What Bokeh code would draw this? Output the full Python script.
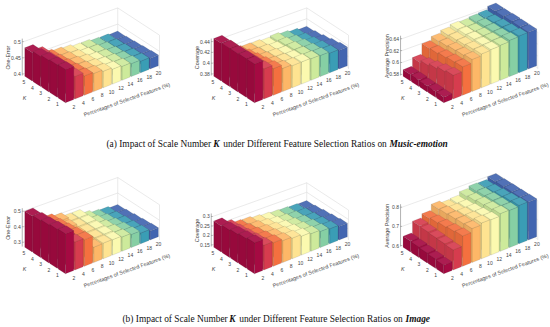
from bokeh.plotting import figure
from bokeh.embed import file_html
from bokeh.resources import INLINE
from bokeh.models import ColumnDataSource, Range1d
from bokeh.core.properties import value

pcts = [2, 4, 6, 8, 10, 12, 14, 16, 18, 20]
ks = [1, 2, 3, 4, 5]
colors = ["#A50A42", "#D63C4E", "#F4703F", "#FDB767", "#FEE391", "#FBF9AF", "#CDEA9B", "#86CFA4", "#3A9DB5", "#4265B0"]

# each inner list: one percentage column, values for K = 1..5
one_error_a = [
    [.498, .496, .493, .488, .483],
    [.465, .465, .465, .465, .465],
    [.455, .453, .450, .447, .445],
    [.451, .448, .446, .443, .440],
    [.446, .444, .441, .438, .436],
    [.441, .438, .436, .433, .430],
    [.438, .436, .433, .431, .429],
    [.435, .432, .430, .427, .424],
    [.431, .429, .427, .425, .423],
    [.428, .426, .424, .422, .420],
]
coverage_a = [
    [.449, .449, .448, .448, .447],
    [.433, .432, .431, .430, .430],
    [.4265, .424, .421, .418, .414],
    [.420, .418, .416, .414, .412],
    [.418, .416, .415, .413, .411],
    [.418, .415, .413, .411, .4085],
    [.417, .415, .414, .412, .410],
    [.416, .414, .412, .409, .407],
    [.4135, .412, .409, .406, .404],
    [.4116, .409, .406, .403, .401],
]
precision_a = [
    [.5875, .588, .588, .589, .589],
    [.618, .615, .611, .607, .603],
    [.626, .625, .623, .621, .620],
    [.632, .630, .629, .627, .626],
    [.635, .634, .632, .631, .630],
    [.636, .635, .635, .634, .6335],
    [.637, .636, .635, .633, .632],
    [.639, .637, .636, .635, .6335],
    [.640, .638, .637, .635, .634],
    [.640, .640, .640, .639, .639],
]
one_error_b = [
    [.530, .525, .518, .510, .504],
    [.453, .452, .451, .450, .450],
    [.444, .438, .430, .424, .418],
    [.371, .378, .385, .393, .400],
    [.373, .373, .374, .375, .375],
    [.371, .372, .372, .373, .373],
    [.364, .359, .354, .348, .343],
    [.356, .349, .342, .334, .326],
    [.341, .336, .331, .325, .320],
    [.330, .325, .320, .314, .309],
]
coverage_b = [
    [.305, .299, .292, .286, .279],
    [.272, .267, .262, .256, .250],
    [.266, .258, .249, .240, .231],
    [.257, .250, .243, .235, .227],
    [.250, .242, .235, .226, .217],
    [.241, .234, .226, .218, .210],
    [.234, .227, .219, .211, .204],
    [.226, .220, .213, .206, .200],
    [.220, .214, .208, .202, .196],
    [.213, .208, .203, .197, .192],
]
precision_b = [
    [.640, .644, .647, .650, .652],
    [.700, .703, .705, .708, .711],
    [.753, .748, .742, .736, .730],
    [.772, .769, .766, .763, .760],
    [.781, .773, .766, .757, .748],
    [.779, .772, .766, .758, .751],
    [.791, .785, .780, .773, .767],
    [.789, .786, .784, .780, .777],
    [.795, .790, .785, .779, .774],
    [.793, .791, .790, .788, .786],
]

titles = ["One-Error", "Coverage", "Average Precision"]
panels = [
    dict(m=one_error_a, ox=0, oy=0, base=.395, zs=323, ticks=[.4, .45, .5], labs=["0.4", "0.45", "0.5"], name=titles[0]),
    dict(m=coverage_a, ox=180, oy=0, base=.377, zs=539, ticks=[.38, .40, .42, .44], labs=["0.38", "0.4", "0.42", "0.44"], name=titles[1]),
    dict(m=precision_a, ox=360, oy=0, base=.578, zs=594, ticks=[.58, .60, .62, .64], labs=["0.58", "0.6", "0.62", "0.64"], name=titles[2]),
    dict(m=one_error_b, ox=0, oy=165, base=.272, zs=155, ticks=[.3, .4, .5], labs=["0.3", "0.4", "0.5"], name=titles[0]),
    dict(m=coverage_b, ox=180, oy=165, base=.141, zs=189, ticks=[.15, .2, .25, .3], labs=["0.15", "0.2", "0.25", "0.3"], name=titles[1]),
    dict(m=precision_b, ox=360, oy=165, base=.595, zs=192, ticks=[.6, .7, .8], labs=["0.6", "0.7", "0.8"], name=titles[2]),
]
front_x = [65.0, 74.0, 83.3, 65.0, 74.0, 83.3]
front_y = [102.3, 102.3, 102.3, 108.3, 108.3, 108.3]
DX = (9.4, -3.75)
DK = (-8.35, -5.45)
BW = 0.88
WALL_DROP = 3.8
XLAB = "Percentages of Selected Features (%)"


def shade(c, f):
    r, g, b = int(c[1:3], 16), int(c[3:5], 16), int(c[5:7], 16)
    if f <= 1:
        r, g, b = r * f, g * f, b * f
    else:
        t = f - 1
        r, g, b = r + (255 - r) * t, g + (255 - g) * t, b + (255 - b) * t
    return "#%02x%02x%02x" % (int(r), int(g), int(b))


p = figure(width=550, height=327, x_range=Range1d(0, 550), y_range=Range1d(327, 0),
           output_backend="svg", toolbar_location=None, min_border=0)
p.axis.visible = False
p.grid.visible = False
p.outline_line_color = None

for idx, P in enumerate(panels):
    fx, fy = P["ox"] + front_x[idx], P["oy"] + front_y[idx]
    base, zs = P["base"], P["zs"]

    def pr(i, k, z):
        # i: column position, k: row position, z: data value
        return fx + i * DX[0] + k * DK[0], fy + i * DX[1] + k * DK[1] - (z - base) * zs

    # walls
    wx, wy = [], []
    ztop = P["ticks"][-1]
    for t in P["ticks"]:
        a, b, c = pr(0, 5, t), pr(10, 5, t), pr(10, 0, t)
        wx.append([a[0], b[0], c[0]])
        wy.append([a[1], b[1] + WALL_DROP, c[1] + WALL_DROP])
    for a, b in [(pr(10, 5, base), pr(10, 5, ztop)), (pr(10, 0, base), pr(10, 0, ztop))]:
        wx.append([a[0], b[0]])
        wy.append([a[1] + WALL_DROP, b[1] + WALL_DROP])
    p.multi_line(wx, wy, line_color="#dcdcdc", line_width=0.6)

    # bars, back to front
    xs, ys, fc = [], [], []
    M = P["m"]
    for kk in range(4, -1, -1):
        for ii in range(9, -1, -1):
            z = M[ii][kk]
            c = colors[ii]
            i0, i1 = ii, ii + BW
            k0, k1 = kk, kk + BW
            faces = [
                ([(i0, k0, base), (i1, k0, base), (i1, k0, z), (i0, k0, z)], 1.0),
                ([(i0, k0, base), (i0, k1, base), (i0, k1, z), (i0, k0, z)], 0.92),
                ([(i0, k0, z), (i1, k0, z), (i1, k1, z), (i0, k1, z)], 1.08),
            ]
            for pts, f in faces:
                q = [pr(*t) for t in pts]
                xs.append([a for a, _ in q])
                ys.append([b for _, b in q])
                fc.append(shade(c, f))
    p.patches(xs="xs", ys="ys", fill_color="fc", line_color="#3a3a3a", line_alpha=0.32, line_width=0.35,
              source=ColumnDataSource(dict(xs=xs, ys=ys, fc=fc)))

    # z axis
    ax0 = pr(0, 5.0, base)
    ax1 = pr(0, 5.0, ztop)
    axx = [[ax0[0] - 1.5, ax1[0] - 1.5]]
    axy = [[ax0[1], ax1[1] - 3]]
    tx, ty, tl = [], [], []
    for t, lab in zip(P["ticks"], P["labs"]):
        q = pr(0, 5, t)
        axx.append([q[0] - 1.5, q[0]])
        axy.append([q[1], q[1]])
        tx.append(q[0] - 3)
        ty.append(q[1])
        tl.append(lab)
    p.multi_line(axx, axy, line_color="#666666", line_width=0.5)
    p.text(tx, ty, text=tl, text_font=value("Liberation Sans"), text_font_size="5px",
           text_align="right", text_baseline="middle", text_color="#444444")
    mid = pr(0, 5, (base + ztop) / 2)
    p.text([mid[0] - 15.5], [mid[1] - 1], text=[P["name"]], angle=[1.5708], angle_units="rad",
           text_font=value("Liberation Sans"), text_font_size="5.4px",
           text_align="center", text_baseline="middle", text_color="#444444")

    # x labels
    tx, ty, tl = [], [], []
    for i, v in enumerate(pcts):
        q = pr(i, 0, base)
        tx.append(q[0] + 8.5)
        ty.append(q[1] + 3.9)
        tl.append(str(v))
    p.text(tx, ty, text=tl, text_font=value("Liberation Sans"), text_font_size="5px",
           text_align="center", text_baseline="middle", text_color="#444444")
    # k labels
    tx, ty, tl = [], [], []
    for k, v in zip(range(5), ks):
        q = pr(-0.75, k + 0.43, base)
        tx.append(q[0] + 2.5)
        ty.append(q[1] + 1)
        tl.append(str(v))
    p.text(tx, ty, text=tl, text_font=value("Liberation Sans"), text_font_size="5px",
           text_align="center", text_baseline="middle", text_color="#444444")
    p.text([fx - 41], [fy - 4.5], text=["K"], text_font=value("Liberation Sans"), text_font_size="5.4px",
           text_font_style="italic", text_align="center", text_baseline="middle", text_color="#444444")
    p.text([fx + 61.3], [fy - 3.3], text=[XLAB], angle=[0.342], angle_units="rad",
           text_font=value("Liberation Sans"), text_font_size="5.4px",
           text_align="center", text_baseline="middle", text_color="#444444")

# captions
capA = [("(a) Impact of Scale Number ", 106, "normal"), ("K", 212.7, "bold italic"),
        ("under Different Feature Selection Ratios on ", 222.7, "normal"), ("Music-emotion", 389, "bold italic")]
capB = [("(b) Impact of Scale Number ", 122, "normal"), ("K", 228.7, "bold italic"),
        ("under Different Feature Selection Ratios on ", 238.7, "normal"), ("Image", 405, "bold italic")]
for cap, y in [(capA, 143), (capB, 318)]:
    for s, x, st in cap:
        p.text([x], [y], text=[s], text_font=value("Liberation Serif"), text_font_size="9.4px",
               text_font_style=st, text_align="left", text_baseline="middle", text_color="#111111")

open("out.html", "w").write(file_html(p, INLINE))
